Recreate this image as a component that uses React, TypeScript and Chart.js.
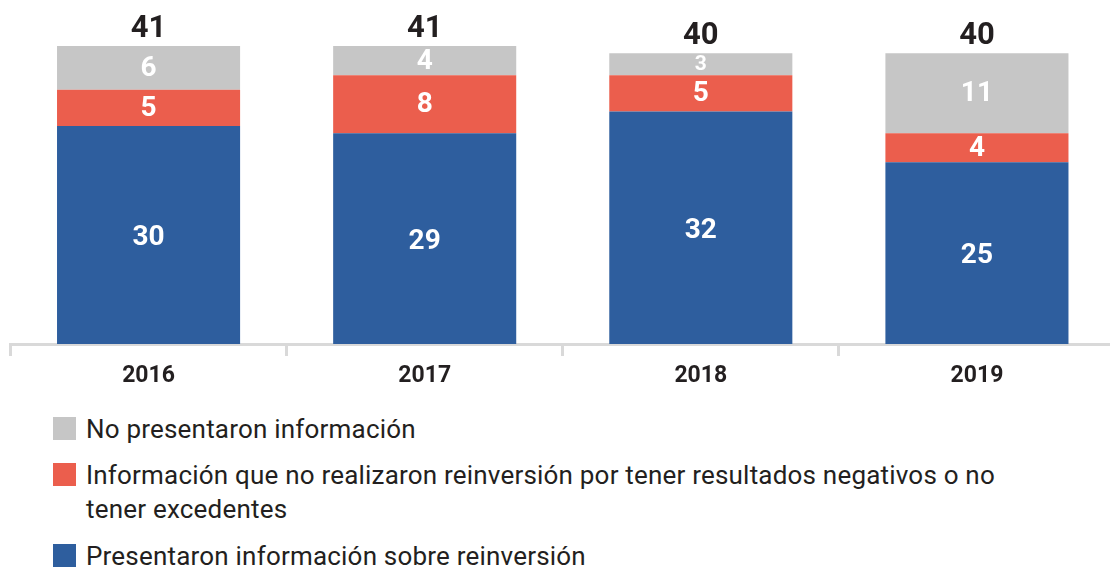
import React, { useEffect, useRef } from "react";
import { Chart, registerables } from "chart.js";

Chart.register(...registerables);

const CATEGORIES = ["2016", "2017", "2018", "2019"];
const PRESENTARON = [30, 29, 32, 25];
const NO_REINVERSION = [5, 8, 5, 4];
const NO_PRESENTARON = [6, 4, 3, 11];

const LABEL_GRAY = "No presentaron información";
const LABEL_RED = "Información que no realizaron reinversión por tener resultados negativos o no";
const LABEL_RED_2 = "tener excedentes";
const LABEL_BLUE = "Presentaron información sobre reinversión";

const BLUE = "#2e5e9e";
const RED = "#eb5e4d";
const GRAY = "#c6c6c6";
const TEXT = "#231f20";
const FONT = "Roboto, 'DejaVu Sans', sans-serif";

const labelPlugin = {
  id: "segLabels",
  afterDatasetsDraw(chart: any) {
    const ctx = chart.ctx;
    ctx.save();
    ctx.textAlign = "center";
    chart.data.datasets.forEach((ds: any, di: number) => {
      const meta = chart.getDatasetMeta(di);
      meta.data.forEach((el: any, i: number) => {
        const v = ds.data[i];
        const h = Math.abs(el.base - el.y);
        const size = h < 26 ? 21 : 28;
        ctx.font = `bold ${size}px ${FONT}`;
        ctx.fillStyle = "#ffffff";
        ctx.textBaseline = "middle";
        ctx.fillText(String(v), el.x, (el.y + el.base) / 2 + (h > 150 ? 3 : 1));
      });
    });
    const last = chart.getDatasetMeta(chart.data.datasets.length - 1);
    last.data.forEach((el: any, i: number) => {
      const total = chart.data.datasets.reduce((s: number, d: any) => s + d.data[i], 0);
      ctx.font = `bold 31px ${FONT}`;
      ctx.fillStyle = TEXT;
      ctx.textBaseline = "alphabetic";
      ctx.fillText(String(total), el.x, el.y - 9);
    });
    ctx.restore();
  },
};

export default function App() {
  const ref = useRef<HTMLCanvasElement>(null);
  useEffect(() => {
    if (!ref.current) return;
    const chart = new Chart(ref.current, {
      type: "bar",
      data: {
        labels: CATEGORIES,
        datasets: [
          { label: LABEL_BLUE, data: PRESENTARON, backgroundColor: BLUE },
          { label: LABEL_RED, data: NO_REINVERSION, backgroundColor: RED },
          { label: LABEL_GRAY, data: NO_PRESENTARON, backgroundColor: GRAY },
        ],
      },
      options: {
        animation: false,
        responsive: false,
        maintainAspectRatio: false,
        layout: { padding: { top: 17, left: 10.5, right: 0, bottom: 0 } },
        plugins: { legend: { display: false }, tooltip: { enabled: false } },
        datasets: { bar: { barPercentage: 0.663, categoryPercentage: 1 } },
        scales: {
          x: {
            stacked: true,
            offset: true,
            afterFit: (scale: any) => {
              scale.height = 56;
            },
            border: { display: true, color: "#d9d9d9", width: 3 },
            grid: {
              offset: true,
              drawOnChartArea: false,
              drawTicks: true,
              tickLength: 12,
              color: "#d9d9d9",
              lineWidth: 3,
            },
            ticks: {
              color: TEXT,
              padding: 6,
              font: { family: FONT, size: 23, weight: "bold" },
            },
          },
          y: {
            stacked: true,
            display: false,
            min: 0,
            max: 45,
          },
        },
      },
      plugins: [labelPlugin],
    } as any);
    return () => chart.destroy();
  }, []);

  const item = (top: number, color: string, lines: string[]) => (
    <div style={{ position: "absolute", left: 53, top, display: "flex", alignItems: "flex-start" }}>
      <div style={{ width: 23, height: 23, background: color, marginTop: 7, flex: "none" }} />
      <div
        style={{
          marginLeft: 10,
          marginTop: 2,
          fontFamily: FONT,
          fontSize: 26,
          letterSpacing: "0.2px",
          lineHeight: "34px",
          color: TEXT,
          whiteSpace: "nowrap",
        }}
      >
        {lines.map((l, i) => (
          <div key={i}>{l}</div>
        ))}
      </div>
    </div>
  );

  return (
    <div style={{ position: "absolute", left: 0, top: 0, width: 1110, height: 568, overflow: "hidden", background: "#fff" }}>
      <canvas ref={ref} width={1115} height={400} style={{ display: "block", width: 1115, height: 400 }} />
      {item(410, GRAY, [LABEL_GRAY])}
      {item(456, RED, [LABEL_RED, LABEL_RED_2])}
      {item(537, BLUE, [LABEL_BLUE])}
    </div>
  );
}
